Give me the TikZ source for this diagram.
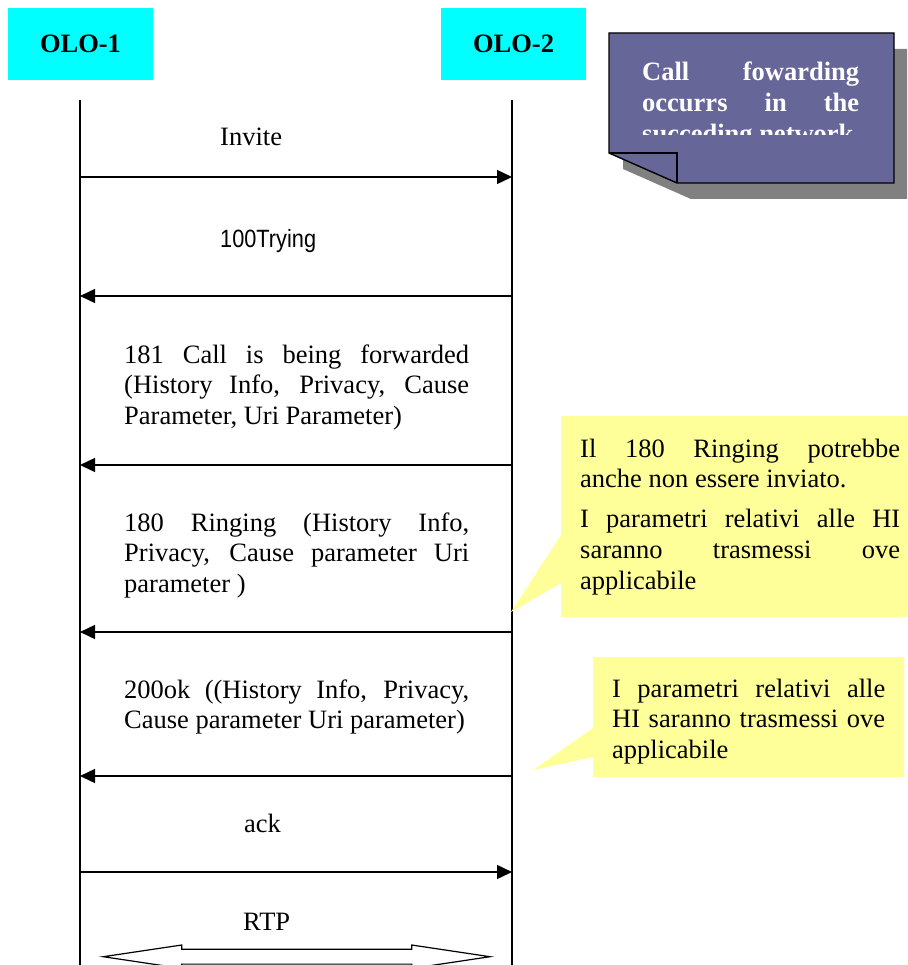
\documentclass[tikz,border=0pt]{standalone}
\usepackage{fontspec}
\setmainfont{Liberation Serif}
\newfontfamily\narrowsans[FakeStretch=0.87]{Liberation Sans}
\usetikzlibrary{arrows.meta}
\definecolor{cyanbox}{RGB}{0,255,255}
\definecolor{notebl}{RGB}{102,102,153}
\definecolor{noteshadow}{RGB}{128,128,128}
\definecolor{calloutyel}{RGB}{255,255,153}
\hyphenpenalty=10000 \exhyphenpenalty=10000 \tolerance=10000 \hbadness=10000
\tikzset{
  txt/.style={inner sep=0pt, anchor=base west, font=\fontsize{26.5}{30.75}\selectfont},
  lifeline/.style={line width=1.6pt},
  msg/.style={line width=1.4pt, -{Triangle[length=15pt,width=14pt]}},
  actor/.style={fill=cyanbox, minimum width=145pt, minimum height=72pt, inner sep=0pt,
    font=\bfseries\fontsize{26.5}{30}\selectfont},
  callout/.style={fill=calloutyel},
}
\begin{document}
\begin{tikzpicture}[x=1pt,y=-1pt]
\useasboundingbox (0,0) rectangle (907,965);
\clip (0,0) rectangle (907,965);

% actors
\node[actor] (olo1) at (80.5,44) {OLO-1};
\node[actor] (olo2) at (513.5,44) {OLO-2};

% lifelines
\coordinate (l1top) at (80,100);
\coordinate (l1bot) at (80,970);
\coordinate (l2top) at (512,100);
\coordinate (l2bot) at (512,970);
\draw[lifeline] (l1top) -- (l1bot);
\draw[lifeline] (l2top) -- (l2bot);

% message end points
\coordinate (inv1) at (80,177);   \coordinate (inv2) at (512,177);
\coordinate (try1) at (80,296);   \coordinate (try2) at (512,296);
\coordinate (f1) at (80,465);     \coordinate (f2) at (512,465);
\coordinate (r1) at (80,632);     \coordinate (r2) at (512,632);
\coordinate (ok1) at (80,776);    \coordinate (ok2) at (512,776);
\coordinate (ack1) at (80,872);   \coordinate (ack2) at (512,872);

\draw[msg] (inv1) -- (inv2);
\draw[msg] (try2) -- (try1);
\draw[msg] (f2) -- (f1);
\draw[msg] (r2) -- (r1);
\draw[msg] (ok2) -- (ok1);
\draw[msg] (ack1) -- (ack2);

% labels
\node[txt] (linvite) at (220,146) {Invite};
\node[txt, font=\narrowsans\fontsize{25}{30}\selectfont] (ltrying) at (220,248) {100Trying};
\node[txt] (l181) at (124,363) {\parbox[t]{345pt}{181 Call is being forwarded\linebreak (History Info, Privacy, Cause\linebreak Parameter, Uri Parameter)}};
\node[txt] (l180) at (124,531) {\parbox[t]{345pt}{180 Ringing (History Info,\linebreak Privacy, Cause parameter Uri\linebreak parameter )}};
\node[txt] (l200) at (124,698) {\parbox[t]{345pt}{200ok ((History Info, Privacy,\linebreak Cause parameter Uri parameter)}};
\node[txt] (lack) at (244,832) {ack};
\node[txt] (lrtp) at (243,930) {RTP};

% RTP double arrow
\filldraw[fill=white, draw=black, line width=1.2pt]
  (103.3,956.7) -- (181.7,945) -- (181.7,949.3) -- (411.7,949.3) -- (411.7,945)
  -- (490,956.7) -- (411.7,968.4) -- (411.7,964.1) -- (181.7,964.1) -- (181.7,968.4) -- cycle;

% blue note with shadow
\fill[noteshadow] (623,49) -- (908,49) -- (908,199) -- (691,199) -- (623,169) -- cycle;
\filldraw[fill=notebl, draw=black, line width=1.4pt]
  (609,33) -- (894,33) -- (894,183) -- (677,183) -- (609,153) -- cycle;
\draw[line width=1.4pt] (609,153) -- (677,153) -- (677,183);
\begin{scope}
\clip (610,34) rectangle (893,135);
\node[txt, text=white, font=\bfseries\fontsize{26.5}{31}\selectfont] (notetext) at (642,81)
  {\parbox[t]{217pt}{Call fowarding\linebreak occurrs in the\linebreak succeding network}};
\end{scope}

% yellow callouts
\fill[callout] (561,416) -- (910,416) -- (910,617) -- (561,617) -- (561,583) -- (511,612) -- (561,535) -- cycle;
\node[txt] (c1text) at (580,457) {\parbox[t]{320pt}{Il 180 Ringing potrebbe\linebreak anche non essere inviato.\par\vspace{9.25pt}I parametri relativi alle HI\linebreak saranno trasmessi ove\linebreak applicabile}};

\fill[callout] (593,657) -- (904,657) -- (904,777) -- (593,777) -- (593,757) -- (533,770) -- (593,728) -- cycle;
\node[txt] (c2text) at (612,697) {\parbox[t]{273pt}{I parametri relativi alle\linebreak HI saranno trasmessi ove\linebreak applicabile}};
\end{tikzpicture}
\end{document}
